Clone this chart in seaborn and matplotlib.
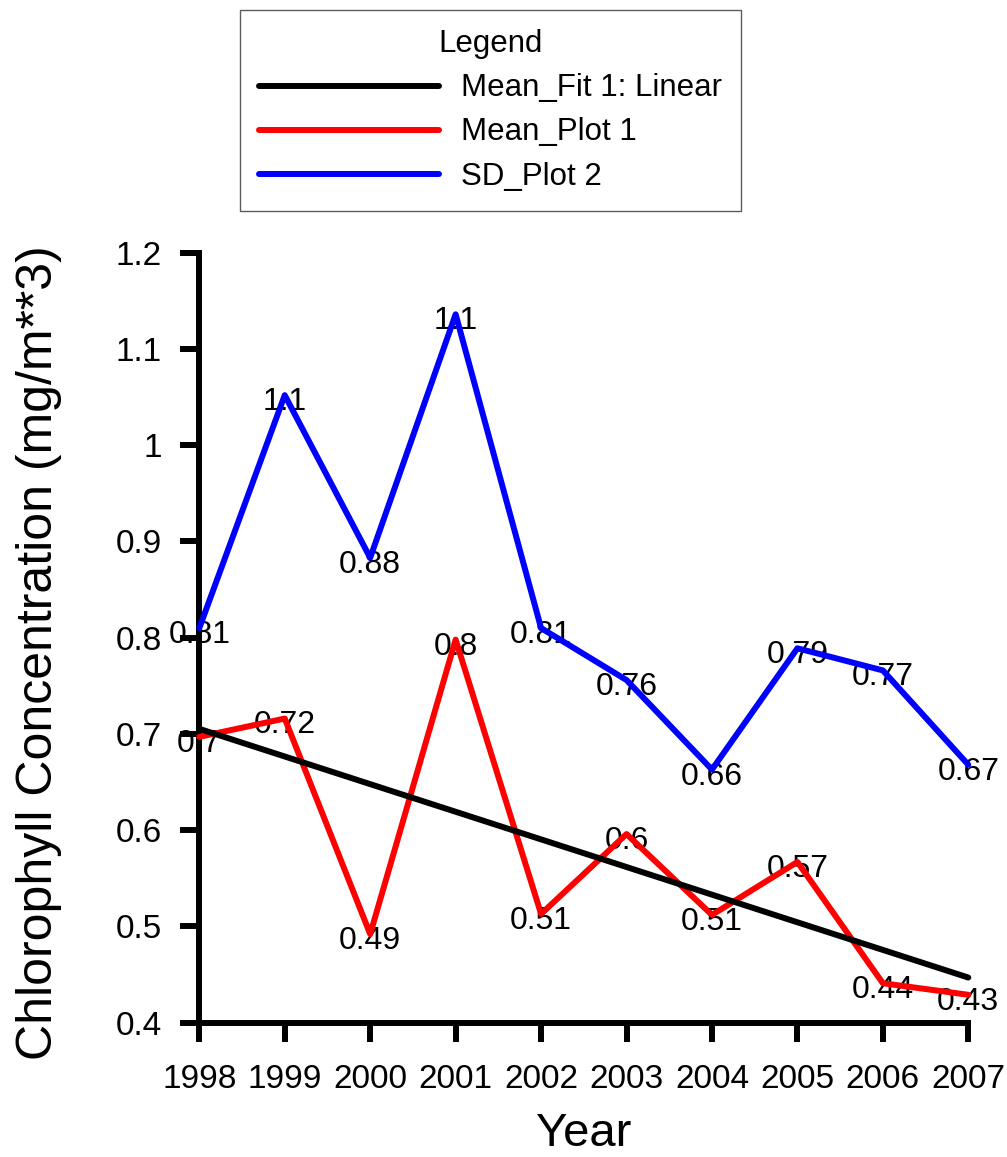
import numpy as np
import pandas as pd
import matplotlib
matplotlib.use("Agg")
import matplotlib.pyplot as plt
import seaborn as sns
from matplotlib.ticker import FuncFormatter

# Annual chlorophyll statistics
years = [1998, 1999, 2000, 2001, 2002, 2003, 2004, 2005, 2006, 2007]
mean_chl = [0.697, 0.716, 0.492, 0.798, 0.513, 0.596, 0.512, 0.567, 0.441, 0.429]
sd_chl = [0.810, 1.052, 0.883, 1.136, 0.810, 0.756, 0.663, 0.789, 0.766, 0.668]
y_ticks = [0.4, 0.5, 0.6, 0.7, 0.8, 0.9, 1.0, 1.1, 1.2]

sns.set_style("ticks")
plt.rcParams["font.family"] = ["Liberation Sans", "DejaVu Sans"]
plt.rcParams.update({"text.color": "black", "axes.labelcolor": "black",
                     "xtick.color": "black", "ytick.color": "black"})

df = pd.DataFrame({"Year": years, "Mean": mean_chl, "SD": sd_chl})

W, H = 1007, 1157
fig = plt.figure(figsize=(W / 100, H / 100), dpi=100)
ax = fig.add_axes([199.3 / W, 1 - 1022.7 / H, 769 / W, 770 / H])

LW = 4.3
line_style = dict(solid_capstyle="round", solid_joinstyle="round", clip_on=False)

# linear fit of the annual means
sns.regplot(data=df, x="Year", y="Mean", scatter=False, ci=None, color="black",
            truncate=True, ax=ax, label="Mean_Fit 1: Linear",
            line_kws=dict(lw=LW, zorder=5, **line_style))
fit_line = ax.lines[-1]
fit_line.set_label("Mean_Fit 1: Linear")
sns.lineplot(data=df, x="Year", y="Mean", color="#ff0000", lw=LW, label="Mean_Plot 1",
             ax=ax, zorder=4, **line_style)
sns.lineplot(data=df, x="Year", y="SD", color="#0000ff", lw=LW, label="SD_Plot 2",
             ax=ax, zorder=4, **line_style)

# value labels (2 significant digits)
for series in (mean_chl, sd_chl):
    for x, v in zip(years, series):
        ax.annotate(f"{v:.2g}", (x, v), xytext=(0, -5), textcoords="offset points",
                    ha="center", va="center", fontsize=23, zorder=1,
                    annotation_clip=False)

ax.set_xlim(1998, 2007)
ax.set_ylim(0.4, 1.2)
ax.set_xticks(years)
ax.set_yticks(y_ticks)
ax.yaxis.set_major_formatter(FuncFormatter(lambda v, _: f"{v:g}"))
ax.tick_params(axis="both", length=14, width=LW, labelsize=24, color="black")
ax.tick_params(axis="y", pad=13)
ax.tick_params(axis="x", pad=16)

for side in ("top", "right"):
    ax.spines[side].set_visible(False)
for side in ("left", "bottom"):
    ax.spines[side].set_linewidth(LW)
    ax.spines[side].set_color("black")

ax.set_xlabel("Year", fontsize=34, labelpad=12)
ax.set_ylabel("Chlorophyll Concentration (mg/m**3)", fontsize=36)
ax.yaxis.set_label_coords(-0.178, 0.48)

if ax.get_legend() is not None:
    ax.get_legend().remove()

handles, labels = ax.get_legend_handles_labels()
order = ["Mean_Fit 1: Linear", "Mean_Plot 1", "SD_Plot 2"]
hmap = dict(zip(labels, handles))
leg = fig.legend([hmap[k] for k in order], order, title="Legend",
                 loc="upper left", bbox_to_anchor=(240 / W, 1 - 10 / H),
                 borderaxespad=0, fontsize=22.5, title_fontsize=22.5,
                 handlelength=5.75, handletextpad=0.7, borderpad=0.62,
                 labelspacing=0.45, frameon=True, fancybox=False)
leg.get_frame().set_edgecolor("#333333")
leg.get_frame().set_linewidth(1.0)

fig.savefig("out.png", dpi=100)
